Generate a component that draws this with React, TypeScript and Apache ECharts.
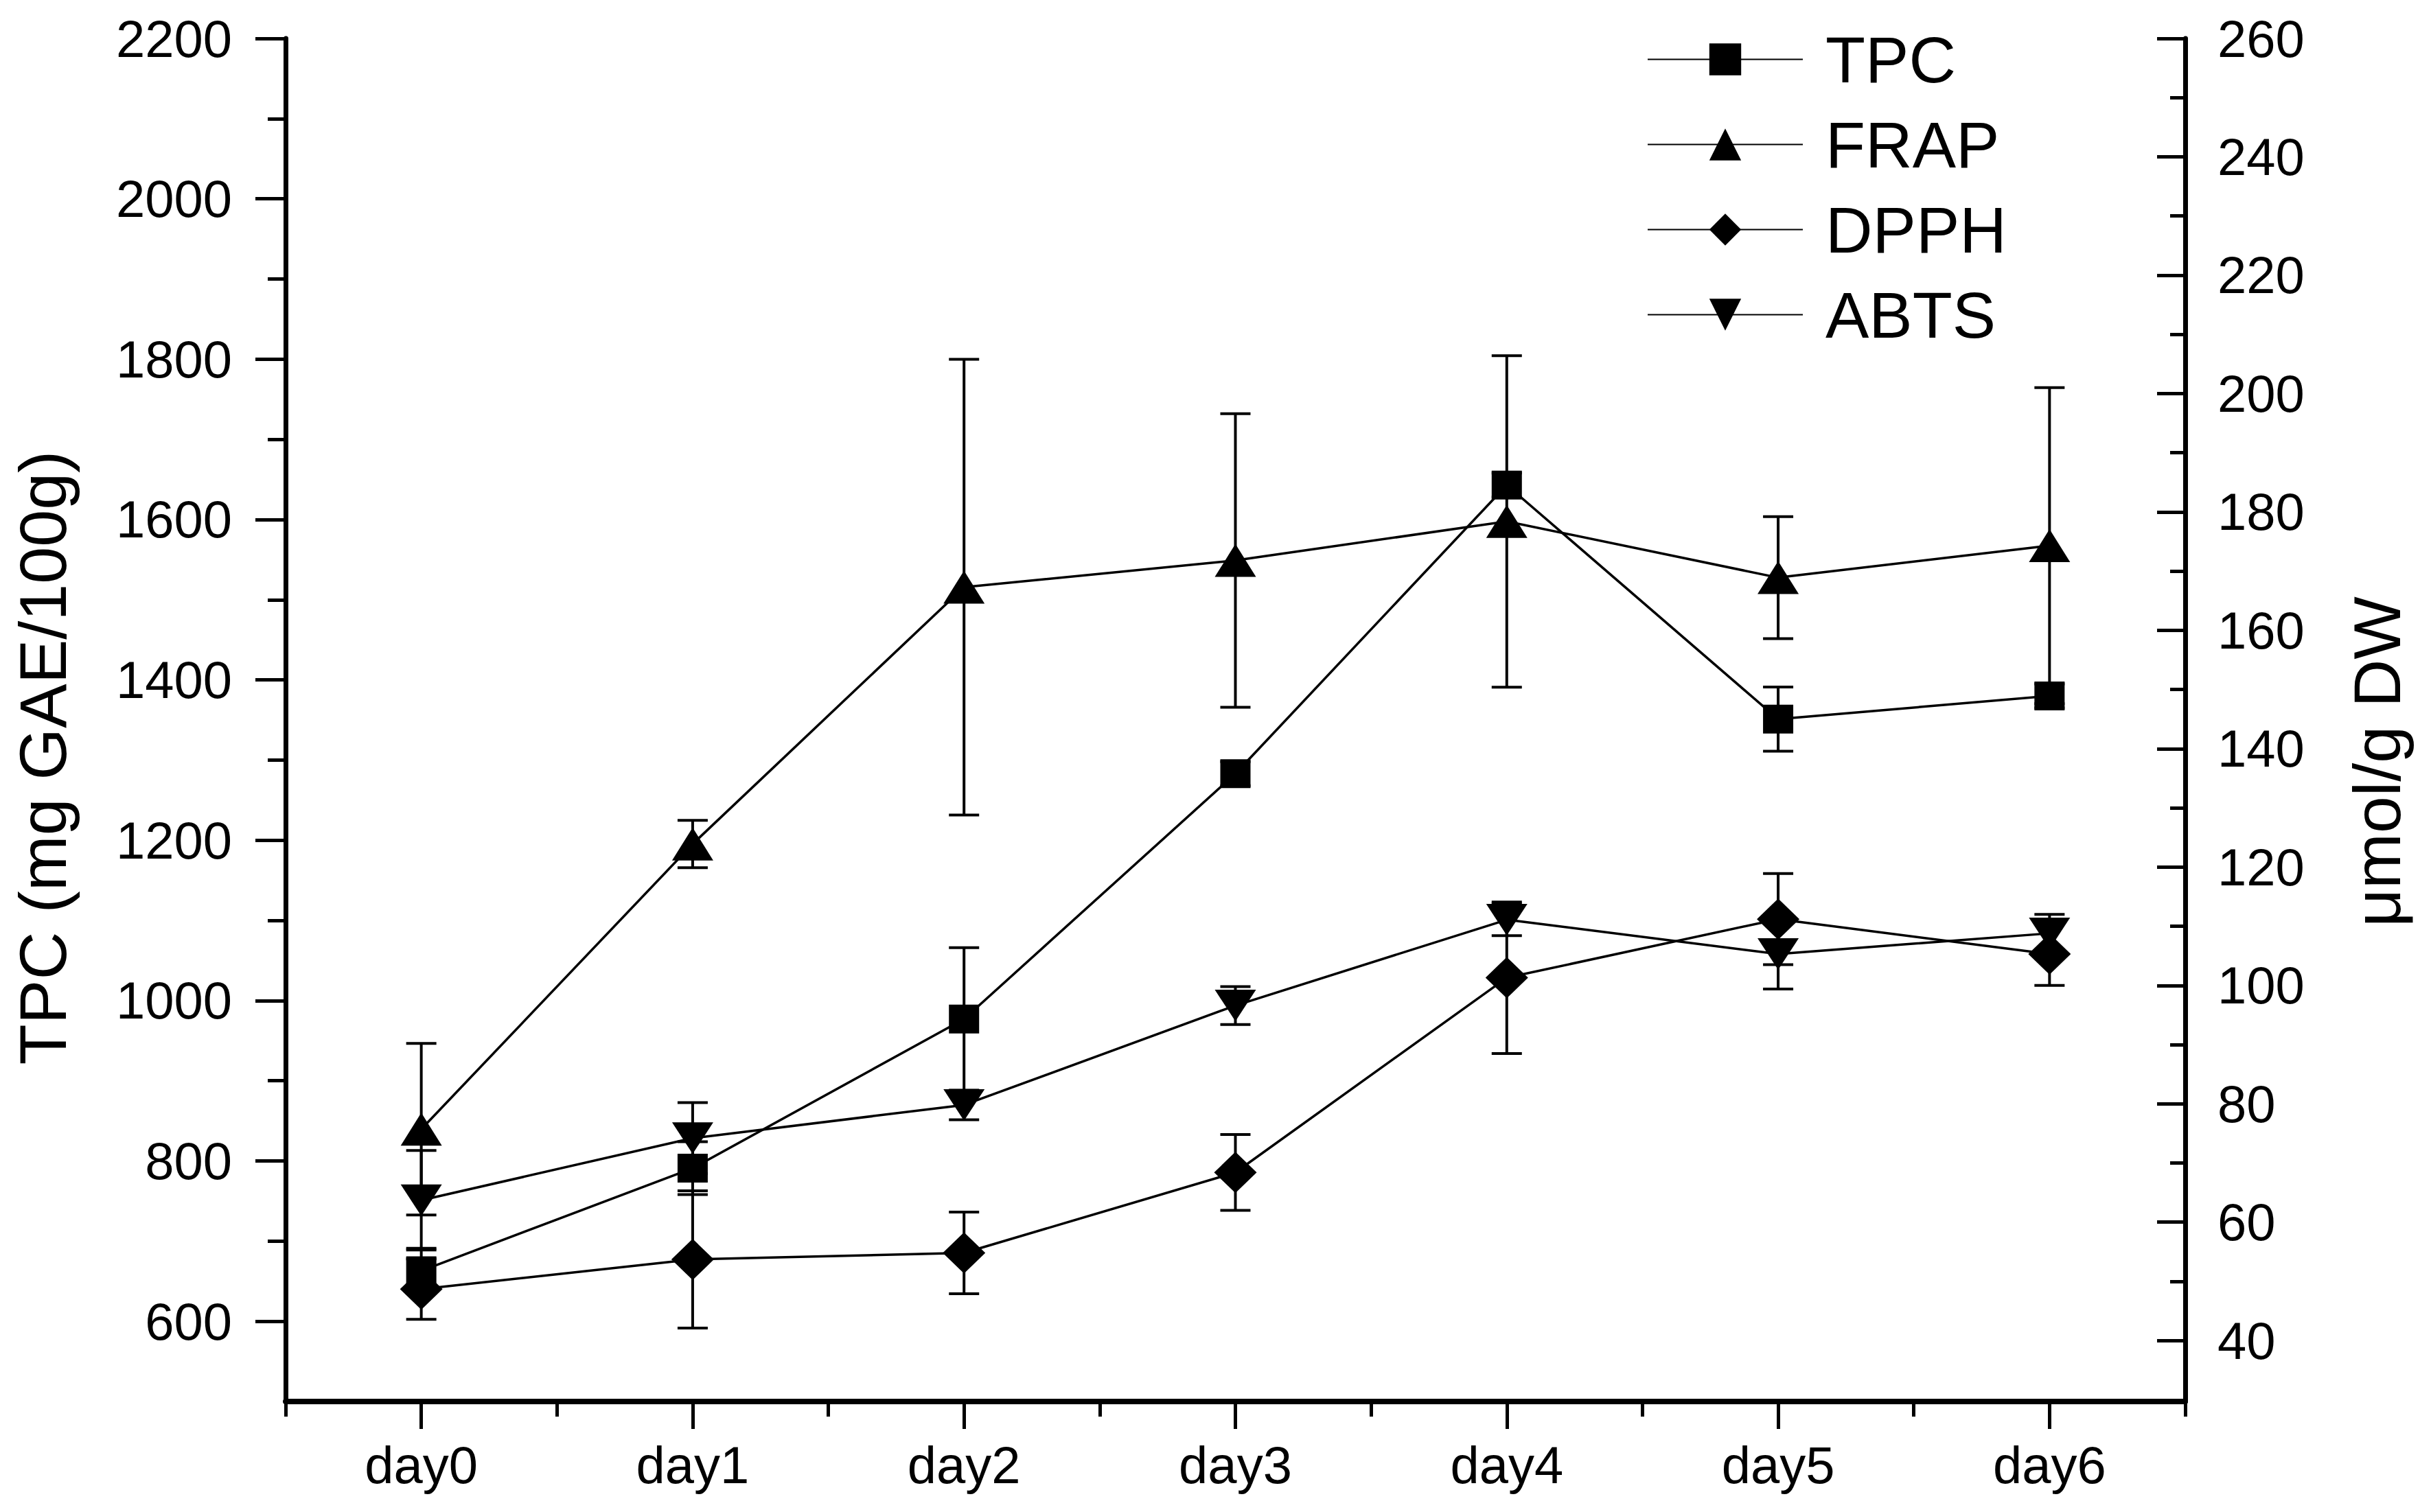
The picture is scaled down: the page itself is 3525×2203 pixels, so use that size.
import React, { useEffect, useRef } from "react";
import * as echarts from "echarts";

const categories = ["day0", "day1", "day2", "day3", "day4", "day5", "day6"];

// TPC on left axis (mg GAE/100g)
const tpcValues = [663, 791, 977, 1283, 1643, 1351, 1380];
const tpcErrors = [28, 33, 89, 15, 15, 40, 15];
// Right axis (μmol/g DW)
const frapValues = [75.7, 123.9, 167.3, 171.8, 178.4, 168.9, 174.3];
const frapErrors = [14.5, 4, 38.5, 24.8, 28, 10.3, 26.7];
const dpphValues = [48.7, 53.7, 54.8, 68.4, 101.3, 111.2, 105.3];
const dpphErrors = [5.1, 11.6, 6.9, 6.4, 12.8, 7.7, 5.3];
const abtsValues = [63.7, 74.2, 79.8, 96.6, 111.1, 105.3, 108.8];
const abtsErrors = [8.4, 6, 2.5, 3.2, 2.7, 5.9, 3.2];

const leftTicks = [600, 800, 1000, 1200, 1400, 1600, 1800, 2000, 2200];
const leftMinorTicks = [700, 900, 1100, 1300, 1500, 1700, 1900, 2100];
const rightTicks = [40, 60, 80, 100, 120, 140, 160, 180, 200, 220, 240, 260];
const rightMinorTicks = [50, 70, 90, 110, 130, 150, 170, 190, 210, 230, 250];

const leftTitle = "TPC (mg GAE/100g)";
const rightTitle = "μmol/g DW";

const FONT = "'Liberation Sans', Arial, Helvetica, sans-serif";
const BLACK = "#000000";

function errorSeries(name: string, values: number[], errors: number[], yAxisIndex: number) {
  return {
    name,
    type: "custom",
    xAxisIndex: 0,
    yAxisIndex,
    z: 2,
    silent: true,
    encode: { x: 0, y: 1 },
    data: values.map((v, i) => [i, v, errors[i]]),
    renderItem: (params: any, api: any) => {
      const x = api.value(0);
      const v = api.value(1);
      const e = api.value(2);
      const top = api.coord([x, v + e]);
      const bot = api.coord([x, v - e]);
      const hw = 22;
      const st = { stroke: BLACK, lineWidth: 4 };
      return {
        type: "group",
        children: [
          { type: "line", shape: { x1: top[0], y1: top[1], x2: bot[0], y2: bot[1] }, style: st },
          { type: "line", shape: { x1: top[0] - hw, y1: top[1], x2: top[0] + hw, y2: top[1] }, style: st },
          { type: "line", shape: { x1: bot[0] - hw, y1: bot[1], x2: bot[0] + hw, y2: bot[1] }, style: st },
        ],
      };
    },
  };
}

function lineSeries(name: string, values: number[], yAxisIndex: number, symbol: string, size: number[], rotate = 0) {
  return {
    name,
    type: "line",
    xAxisIndex: 0,
    yAxisIndex,
    z: 3,
    data: values,
    symbol,
    symbolSize: size,
    symbolRotate: rotate,
    showAllSymbol: true,
    lineStyle: { color: BLACK, width: 3.5 },
    itemStyle: { color: BLACK, borderWidth: 0 },
  };
}

const plain = (v: number) => String(v);

export default function App() {
  const ref = useRef<HTMLDivElement>(null);

  useEffect(() => {
    document.body.style.margin = "0";
    if (!ref.current) return;
    const chart = echarts.init(ref.current, null, { renderer: "svg" });

    const tickStyle = { color: BLACK, width: 5 };
    const labelStyle = { color: BLACK, fontSize: 76, fontFamily: FONT };

    chart.setOption({
      animation: false,
      backgroundColor: "#ffffff",
      grid: { left: 416, right: 342, top: 56, bottom: 161, containLabel: false },
      legend: {
        orient: "vertical",
        left: 2394,
        top: 34,
        itemWidth: 226,
        itemHeight: 58,
        itemGap: 29,
        data: ["TPC", "FRAP", "DPPH", "ABTS"],
        textStyle: { color: BLACK, fontSize: 95, fontFamily: FONT, padding: [0, 0, 0, 28] },
        selectedMode: false,
      },
      xAxis: [
        {
          type: "category",
          data: categories,
          boundaryGap: true,
          position: "bottom",
          axisLine: { show: true, onZero: false, lineStyle: { color: BLACK, width: 8 } },
          axisTick: { show: true, alignWithLabel: true, interval: 0, length: 40, lineStyle: tickStyle },
          axisLabel: { ...labelStyle, margin: 54, interval: 0 },
          splitLine: { show: false },
        },
        {
          type: "category",
          data: categories,
          boundaryGap: true,
          position: "bottom",
          axisLine: { show: false, onZero: false },
          axisTick: { show: true, interval: 0, length: 22, lineStyle: tickStyle },
          axisLabel: { show: false },
          splitLine: { show: false },
        },
      ],
      yAxis: [
        {
          type: "value",
          position: "left",
          min: 500,
          max: 2200,
          axisLine: { show: true, lineStyle: { color: BLACK, width: 7 } },
          axisTick: { show: true, length: 44, customValues: leftTicks, lineStyle: tickStyle },
          axisLabel: { ...labelStyle, margin: 78, customValues: leftTicks, formatter: plain },
          splitLine: { show: false },
        },
        {
          type: "value",
          position: "right",
          min: 29.7,
          max: 260,
          axisLine: { show: true, lineStyle: { color: BLACK, width: 7 } },
          axisTick: { show: true, inside: true, length: 41, customValues: rightTicks, lineStyle: tickStyle },
          axisLabel: { ...labelStyle, margin: 47, customValues: rightTicks, formatter: plain },
          splitLine: { show: false },
        },
        {
          type: "value",
          position: "left",
          min: 500,
          max: 2200,
          axisLine: { show: false },
          axisTick: { show: true, length: 26, customValues: leftMinorTicks, lineStyle: tickStyle },
          axisLabel: { show: false },
          splitLine: { show: false },
        },
        {
          type: "value",
          position: "right",
          min: 29.7,
          max: 260,
          axisLine: { show: false },
          axisTick: { show: true, inside: true, length: 22, customValues: rightMinorTicks, lineStyle: tickStyle },
          axisLabel: { show: false },
          splitLine: { show: false },
        },
      ],
      graphic: [
        {
          type: "text",
          x: 62,
          y: 1104,
          rotation: Math.PI / 2,
          style: {
            text: leftTitle,
            fill: BLACK,
            fontSize: 97,
            fontFamily: FONT,
            align: "center",
            verticalAlign: "middle",
          },
        },
        {
          type: "text",
          x: 3462,
          y: 1110,
          rotation: Math.PI / 2,
          style: {
            text: rightTitle,
            fill: BLACK,
            fontSize: 97,
            fontFamily: FONT,
            align: "center",
            verticalAlign: "middle",
          },
        },
      ],
      series: [
        errorSeries("TPC err", tpcValues, tpcErrors, 0),
        errorSeries("FRAP err", frapValues, frapErrors, 1),
        errorSeries("DPPH err", dpphValues, dpphErrors, 1),
        errorSeries("ABTS err", abtsValues, abtsErrors, 1),
        lineSeries("TPC", tpcValues, 0, "rect", [44, 42]),
        lineSeries("FRAP", frapValues, 1, "triangle", [60, 48]),
        lineSeries("DPPH", dpphValues, 1, "diamond", [62, 60]),
        lineSeries("ABTS", abtsValues, 1, "triangle", [60, 46], 180),
      ],
    });

    return () => chart.dispose();
  }, []);

  return (
    <div
      ref={ref}
      style={{ position: "absolute", left: 0, top: 0, width: 3525, height: 2203, background: "#fff" }}
    />
  );
}
